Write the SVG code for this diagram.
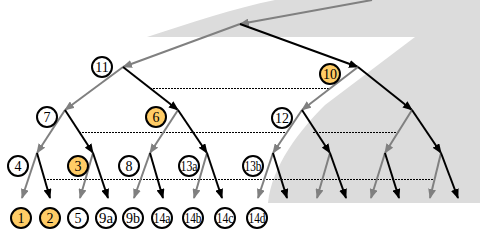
<svg xmlns="http://www.w3.org/2000/svg" width="480" height="240" viewBox="0 0 480 240">
<defs>
<style>
.n circle{fill:#fff;stroke:#000;stroke-width:2}
.n.o circle{fill:#FFCC66}
.n text{font-family:"Liberation Serif","Times New Roman",serif;font-size:14px;fill:#000;text-anchor:middle}
.g{stroke:#808080;stroke-width:2;fill:none;marker-end:url(#ag)}
.b{stroke:#000;stroke-width:2;fill:none;marker-end:url(#ab)}
.d{stroke:#000;stroke-width:1;stroke-dasharray:2 1;fill:none}
</style>
<marker id="ag" viewBox="0 0 10 8" refX="9" refY="4" markerWidth="10" markerHeight="8" markerUnits="userSpaceOnUse" orient="auto"><path d="M0,0 L10,4 L0,8 Z" fill="#808080"/></marker>
<marker id="ab" viewBox="0 0 10 8" refX="9" refY="4" markerWidth="10" markerHeight="8" markerUnits="userSpaceOnUse" orient="auto"><path d="M0,0 L10,4 L0,8 Z" fill="#000"/></marker>
</defs>
<path id="bg" d="M147,37 C190,23 235,8 275,0 L480,0 L480,203 L268,203 C272,165 300,130 325,105 L415,37 Z" fill="#DCDCDC"/>
<g id="connectors">
<line class="d" x1="150" y1="88.5" x2="331" y2="88.5"/>
<line class="d" x1="79" y1="132.5" x2="287" y2="132.5"/>
<line class="d" x1="313" y1="132.5" x2="399" y2="132.5"/>
<line class="d" x1="44" y1="179.5" x2="435" y2="179.5"/>
<line class="g" x1="372" y1="0" x2="240" y2="24"/>
<line class="g" x1="240" y1="24" x2="123" y2="67"/>
<line class="b" x1="240" y1="24" x2="358" y2="67"/>
<line class="g" x1="123" y1="67" x2="65" y2="110"/>
<line class="b" x1="123" y1="67" x2="178" y2="110"/>
<line class="g" x1="358" y1="67" x2="302" y2="110"/>
<line class="b" x1="358" y1="67" x2="412" y2="110"/>
<line class="g" x1="65" y1="110" x2="37" y2="153"/>
<line class="b" x1="65" y1="110" x2="93" y2="153"/>
<line class="g" x1="178" y1="110" x2="150" y2="153"/>
<line class="b" x1="178" y1="110" x2="207" y2="153"/>
<line class="g" x1="302" y1="110" x2="273" y2="153"/>
<line class="b" x1="302" y1="110" x2="330" y2="153"/>
<line class="g" x1="412" y1="110" x2="385" y2="153"/>
<line class="b" x1="412" y1="110" x2="441" y2="153"/>
<line class="g" x1="37" y1="153" x2="22" y2="198"/>
<line class="b" x1="37" y1="153" x2="50" y2="198"/>
<line class="g" x1="93" y1="153" x2="80" y2="198"/>
<line class="b" x1="93" y1="153" x2="108" y2="198"/>
<line class="g" x1="150" y1="153" x2="134" y2="198"/>
<line class="b" x1="150" y1="153" x2="163" y2="198"/>
<line class="g" x1="207" y1="153" x2="194" y2="198"/>
<line class="b" x1="207" y1="153" x2="222" y2="198"/>
<line class="g" x1="273" y1="153" x2="258" y2="198"/>
<line class="b" x1="273" y1="153" x2="287" y2="198"/>
<line class="g" x1="330" y1="153" x2="317" y2="198"/>
<line class="b" x1="330" y1="153" x2="346" y2="198"/>
<line class="g" x1="385" y1="153" x2="371" y2="198"/>
<line class="b" x1="385" y1="153" x2="399" y2="198"/>
<line class="g" x1="441" y1="153" x2="430" y2="198"/>
<line class="b" x1="441" y1="153" x2="458" y2="198"/>
</g>
<g id="n11" class="n"><circle cx="102" cy="67" r="10"/><text x="102" y="72">11</text></g>
<g id="n10" class="n o"><circle cx="330" cy="74" r="10"/><text x="330" y="79">10</text></g>
<g id="n7" class="n"><circle cx="47" cy="117" r="10"/><text x="47" y="122">7</text></g>
<g id="n6" class="n o"><circle cx="156" cy="117" r="10"/><text x="156" y="122">6</text></g>
<g id="n12" class="n"><circle cx="282" cy="118" r="10"/><text x="282" y="123">12</text></g>
<g id="n4" class="n"><circle cx="18" cy="166" r="10"/><text x="18" y="171">4</text></g>
<g id="n3" class="n o"><circle cx="78" cy="166" r="10"/><text x="78" y="171">3</text></g>
<g id="n8" class="n"><circle cx="129" cy="166" r="10"/><text x="129" y="171">8</text></g>
<g id="n13a" class="n"><circle cx="189" cy="166" r="10"/><text x="189" y="171" textLength="17" lengthAdjust="spacingAndGlyphs">13a</text></g>
<g id="n13b" class="n"><circle cx="253" cy="166" r="10"/><text x="253" y="171" textLength="17" lengthAdjust="spacingAndGlyphs">13b</text></g>
<g id="n1" class="n o"><circle cx="21" cy="218" r="10"/><text x="21" y="223">1</text></g>
<g id="n2" class="n o"><circle cx="50" cy="218" r="10"/><text x="50" y="223">2</text></g>
<g id="n5" class="n"><circle cx="78" cy="218" r="10"/><text x="78" y="223">5</text></g>
<g id="n9a" class="n"><circle cx="106" cy="218" r="10"/><text x="106" y="223" textLength="14" lengthAdjust="spacingAndGlyphs">9a</text></g>
<g id="n9b" class="n"><circle cx="133" cy="218" r="10"/><text x="133" y="223" textLength="14" lengthAdjust="spacingAndGlyphs">9b</text></g>
<g id="n14a" class="n"><circle cx="162" cy="218" r="10"/><text x="162" y="223" textLength="17" lengthAdjust="spacingAndGlyphs">14a</text></g>
<g id="n14b" class="n"><circle cx="193" cy="218" r="10"/><text x="193" y="223" textLength="17" lengthAdjust="spacingAndGlyphs">14b</text></g>
<g id="n14c" class="n"><circle cx="225" cy="218" r="10"/><text x="225" y="223" textLength="17" lengthAdjust="spacingAndGlyphs">14c</text></g>
<g id="n14d" class="n"><circle cx="257" cy="218" r="10"/><text x="257" y="223" textLength="17" lengthAdjust="spacingAndGlyphs">14d</text></g>
</svg>
